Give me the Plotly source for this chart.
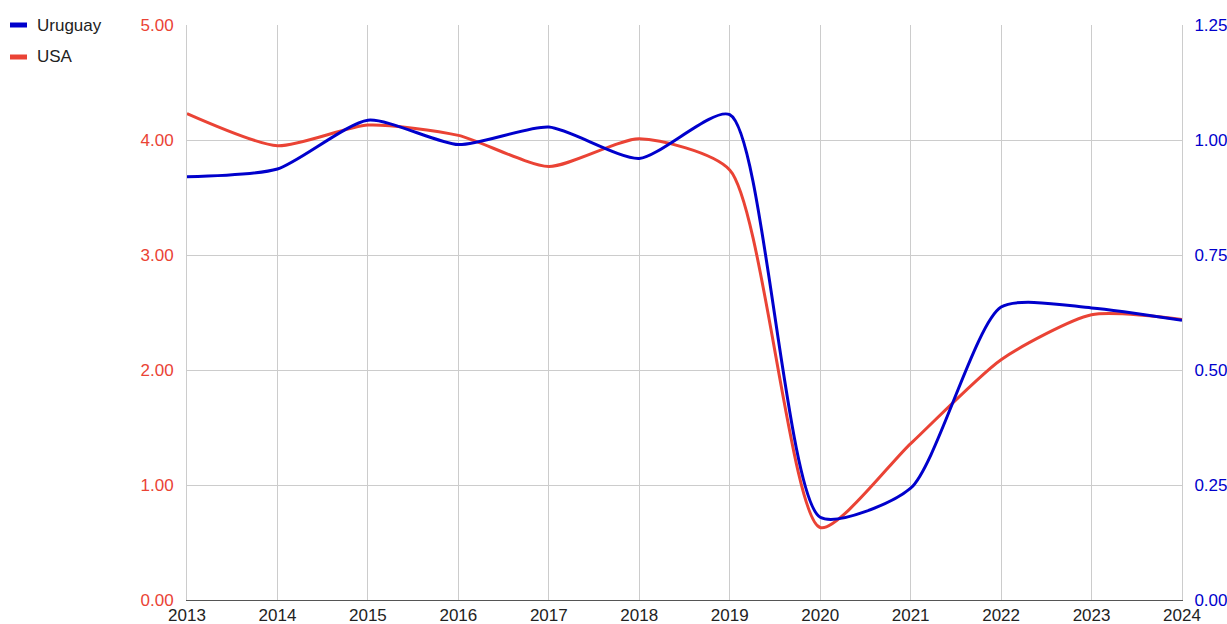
import plotly.graph_objects as go

years = [2013, 2014, 2015, 2016, 2017, 2018, 2019, 2020, 2021, 2022, 2023, 2024]
uruguay = [0.920, 0.937, 1.043, 0.990, 1.028, 0.960, 1.055, 0.180, 0.243, 0.637, 0.635, 0.608]
usa = [4.23, 3.95, 4.13, 4.04, 3.77, 4.01, 3.74, 0.63, 1.36, 2.09, 2.48, 2.44]

left_ticks = [0, 1, 2, 3, 4, 5]
right_ticks = [0, 0.25, 0.5, 0.75, 1.0, 1.25]

BLUE = "#0000cc"
RED = "#ea4335"
FONT = "Liberation Sans, Arial, sans-serif"
FS = 17
SMOOTH = 0.65

fig = go.Figure()
fig.add_trace(go.Scatter(x=years, y=usa, name="USA", mode="lines",
                         line=dict(color=RED, width=3, shape="spline", smoothing=SMOOTH),
                         yaxis="y", showlegend=False))
fig.add_trace(go.Scatter(x=years, y=uruguay, name="Uruguay", mode="lines",
                         line=dict(color=BLUE, width=3, shape="spline", smoothing=SMOOTH),
                         yaxis="y2", showlegend=False))

W, H = 1227, 624
ml, mr, mt, mb = 187, 45, 25, 24
PW, PH = W - ml - mr, H - mt - mb

# manual legend (swatches + labels), pixel positions converted to paper coords
legend_items = [("Uruguay", BLUE), ("USA", RED)]
shapes = []
annotations = []
for i, (name, col) in enumerate(legend_items):
    yc = 25 + 32 * i
    shapes.append(dict(type="rect", xref="paper", yref="paper",
                       x0=(10 - ml) / PW, x1=(27 - ml) / PW,
                       y0=1 - (yc + 2.5 - mt) / PH, y1=1 - (yc - 2.5 - mt) / PH,
                       fillcolor=col, line=dict(width=0)))
    annotations.append(dict(xref="paper", yref="paper", x=(35 - ml) / PW,
                            y=1 - (yc - mt) / PH, text=name, showarrow=False,
                            xanchor="left", yanchor="middle",
                            font=dict(size=FS, color="#222222", family=FONT)))

fig.update_layout(
    width=W, height=H, autosize=False,
    margin=dict(l=ml, r=mr, t=mt, b=mb, pad=0, autoexpand=False),
    paper_bgcolor="white", plot_bgcolor="white",
    font=dict(family=FONT, size=FS, color="#222222"),
    shapes=shapes, annotations=annotations,
    xaxis=dict(range=[2013, 2024], tickvals=years, ticktext=[str(y) for y in years],
               showgrid=True, gridcolor="#cccccc", gridwidth=1,
               showline=True, linecolor="#555555", linewidth=1,
               zeroline=False, ticks="", tickfont=dict(size=FS, color="#222222"),
               automargin=False),
    yaxis=dict(range=[0, 5], tickvals=left_ticks, ticktext=[f"{v:.2f}" for v in left_ticks],
               showgrid=True, gridcolor="#cccccc", gridwidth=1,
               showline=True, linecolor="#cccccc", zeroline=False, ticks="outside",
               ticklen=9, tickcolor="rgba(0,0,0,0)",
               tickfont=dict(size=FS, color=RED), automargin=False),
    yaxis2=dict(range=[0, 1.25], tickvals=right_ticks, ticktext=[f"{v:.2f}" for v in right_ticks],
                overlaying="y", side="right", showgrid=False, zeroline=False,
                showline=True, linecolor="#cccccc", ticks="outside", ticklen=8,
                tickcolor="rgba(0,0,0,0)",
                tickfont=dict(size=FS, color=BLUE), automargin=False),
)

# remove the default page margin so the figure sits at the window's top-left corner
fig.write_html("out.html",
               config={"displayModeBar": False},
               post_script="document.body.style.margin='0';"
                           "document.documentElement.style.overflow='hidden';")
